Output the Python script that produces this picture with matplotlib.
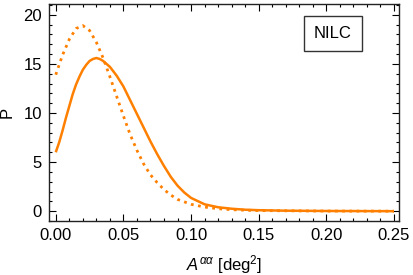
import matplotlib
matplotlib.use("Agg")
import matplotlib.pyplot as plt
from matplotlib.ticker import MultipleLocator

plt.rcParams['font.family'] = ['Liberation Sans', 'DejaVu Sans']
plt.rcParams['mathtext.fontset'] = 'custom'
plt.rcParams['mathtext.rm'] = 'Liberation Sans'
plt.rcParams['mathtext.it'] = 'Liberation Sans:italic'

# Solid curve
x_solid = [0.0, 0.0025, 0.005, 0.0075, 0.01, 0.0125, 0.015, 0.0175, 0.02, 0.0225,
           0.025, 0.0275, 0.03, 0.0325, 0.035, 0.04, 0.045, 0.05,
           0.055, 0.06, 0.065, 0.07, 0.075, 0.08, 0.085, 0.09, 0.095, 0.10,
           0.11, 0.12, 0.13, 0.14, 0.15, 0.17, 0.20, 0.25]
p_solid = [6.0, 7.0, 8.2, 9.5, 10.7, 11.9, 12.9, 13.7, 14.4, 14.9,
           15.3, 15.5, 15.6, 15.5, 15.3, 14.7, 13.8, 12.7,
           11.3, 9.9, 8.5, 7.1, 5.8, 4.6, 3.5, 2.6, 1.9, 1.35,
           0.7, 0.4, 0.25, 0.15, 0.1, 0.05, 0.02, 0.0]

# Dotted curve
x_dot = [0.0, 0.005, 0.01, 0.015, 0.02, 0.025, 0.03, 0.035, 0.04, 0.045, 0.05,
         0.055, 0.06, 0.065, 0.07, 0.075, 0.08, 0.085, 0.09, 0.10,
         0.11, 0.12, 0.13, 0.15, 0.20, 0.25]
p_dot = [13.9, 15.9, 17.5, 18.6, 18.9, 18.4, 17.2, 15.6, 13.7, 11.7, 9.7,
         7.8, 6.2, 4.8, 3.7, 2.9, 2.2, 1.65, 1.2, 0.7,
         0.42, 0.25, 0.15, 0.06, 0.01, 0.0]

xticks = [0.00, 0.05, 0.10, 0.15, 0.20, 0.25]
yticks = [0, 5, 10, 15, 20]

color = '#ff8000'

fig = plt.figure(figsize=(4.13, 2.75), dpi=100)
ax = fig.add_axes([49/413, 1-221/275, 350/413, 217/275])

ax.plot(x_solid, p_solid, color=color, lw=1.8, solid_capstyle='butt')
ax.plot(x_dot, p_dot, color=color, lw=2.0, linestyle=(0, (1.0, 1.6)))

ax.set_xlim(-0.005, 0.2537)
ax.set_ylim(-1.0, 21.1)
ax.set_xticks(xticks)
ax.set_xticklabels([f'{v:.2f}' for v in xticks])
ax.set_yticks(yticks)
ax.xaxis.set_minor_locator(MultipleLocator(0.01))
ax.yaxis.set_minor_locator(MultipleLocator(1))

ax.tick_params(which='both', direction='in', top=True, right=True,
               labelsize=12, colors='black', width=0.8)
ax.tick_params(which='major', length=5, pad=5)
ax.tick_params(which='minor', length=2.5)
for s in ax.spines.values():
    s.set_linewidth(1.0)
    s.set_color('#222222')

ax.set_ylabel('P', fontsize=12, labelpad=6)
ax.set_xlabel(r'$A^{\alpha\alpha}$ [deg$^2$]', fontsize=12, labelpad=7)

ax.text(0.811, 0.862, 'NILC', transform=ax.transAxes, fontsize=12,
        ha='center', va='center',
        bbox=dict(boxstyle='square,pad=0.6', fc='white', ec='#333333', lw=1.0))

fig.savefig('out.png', dpi=100)
